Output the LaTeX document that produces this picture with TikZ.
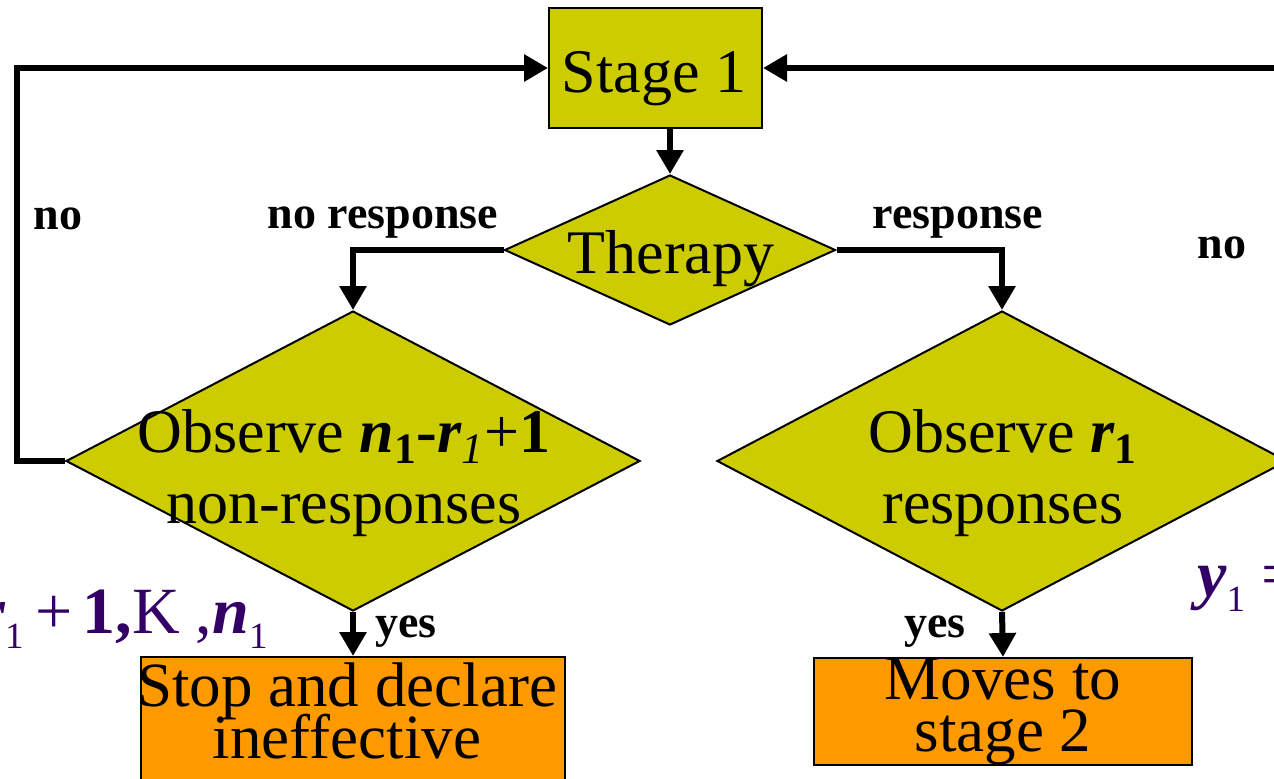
\documentclass[tikz,border=0pt]{standalone}
\usepackage{fontspec}
\setmainfont{Liberation Serif}
\usetikzlibrary{shapes.geometric,arrows.meta}
\definecolor{stagefill}{RGB}{204,204,0}
\definecolor{endfill}{RGB}{255,153,0}
\definecolor{mathpurple}{RGB}{51,0,102}
\newcommand{\bigtext}{\fontsize{31}{35.5}\selectfont\lineskiplimit=-\maxdimen}
\newcommand{\boxtext}{\fontsize{31.5}{26}\selectfont\lineskiplimit=-\maxdimen}
\newcommand{\bi}[1]{{\bfseries\itshape #1}}
% lowered index digit used in the purple range formulas
\newcommand{\lowidx}[1]{\raisebox{-7.5pt}{\fontsize{18.5}{18.5}\selectfont\mdseries\upshape #1}}
\begin{document}
\begin{tikzpicture}[x=0.5pt,y=-0.5pt,
  shapeline/.style={draw=black,line width=1pt},
  stagebox/.style={shapeline,rectangle,fill=stagefill,inner sep=0},
  endbox/.style={shapeline,rectangle,fill=endfill,inner sep=0},
  decision/.style={shapeline,diamond,fill=stagefill,inner sep=0},
  flow/.style={line width=3pt,-{Triangle[length=12pt,width=13pt]}},
  lab/.style={font=\fontsize{23}{26}\selectfont\bfseries,inner sep=0,anchor=base},
  big/.style={font=\bigtext,align=center,inner sep=0},
  boxed/.style={font=\boxtext,align=center,inner sep=0},
  purple/.style={text=mathpurple,font=\fontsize{33}{36}\selectfont,inner sep=0}
]
\useasboundingbox (0,0) rectangle (1274,778);

% shapes
\node[stagebox,minimum width=106.5pt,minimum height=60pt] (stage) at (655.5,68) {};
\node[decision,minimum width=165.5pt,minimum height=75pt] (therapy) at (670,250) {};
\node[decision,minimum width=287pt,minimum height=150pt] (obsL) at (353,461) {};
\node[decision,minimum width=285pt,minimum height=150pt] (obsR) at (1002,461) {};
\node[endbox,minimum width=212pt,minimum height=66pt] (stop) at (353,723) {};
\node[endbox,minimum width=189pt,minimum height=53.5pt] (moves) at (1003,711.5) {};

% texts inside the shapes
\node[big,anchor=base] (tStage) at (654,92) {Stage 1};
\node[big,anchor=base] (tTherapy) at (671,273) {Therapy};
\node[big] (tObsL) at (344,473) {Observe \bi{n}\textsubscript{\bfseries 1}{\bfseries -}\bi{r}\textsubscript{\itshape 1}+{\bfseries 1}\\non-responses};
\node[big] (tObsR) at (1003,473) {Observe \bi{r}\textsubscript{\bfseries 1}\\responses};
\node[boxed] (tStop) at (347,711) {Stop and declare\\ineffective};
\node[boxed] (tMoves) at (1003,712) {Moves to\\stage 2};

% connectors
\draw[flow] (stage.south -| therapy.north) -- (therapy.north);
\draw[flow] (therapy.west) -| (obsL.north);
\draw[flow] (therapy.east) -| (obsR.north);
\draw[flow] (obsL.west) -- ++(-48,0) |- (stage.west);
\coordinate (backR) at (1290,68);
\draw[flow] (backR) -- (stage.east);
\draw[flow] (obsL.south) -- (stop.north);
\draw[flow] (obsR.south) -- (moves.north);

% connector labels
\node[lab] (lNoResp) at (383,228) {no response};
\node[lab] (lResp) at (958,228) {response};
\node[lab] (lNoL) at (58,229) {no};
\node[lab] (lNoR) at (1222,258) {no};
\node[lab] (lYesL) at (406,637) {yes};
\node[lab] (lYesR) at (935,637) {yes};

% range formulas
\node[purple,anchor=base east] (rangeL) at (268,633) {\bi{r}\lowidx{1}\hspace{6pt}+\hspace{5pt}{\bfseries 1,}K\hspace{8pt},\bi{n}\lowidx{1}};
\node[purple,anchor=base west] (rangeR) at (1197,596) {\bi{y}\lowidx{1}\hspace{8pt}=};
\end{tikzpicture}
\end{document}
